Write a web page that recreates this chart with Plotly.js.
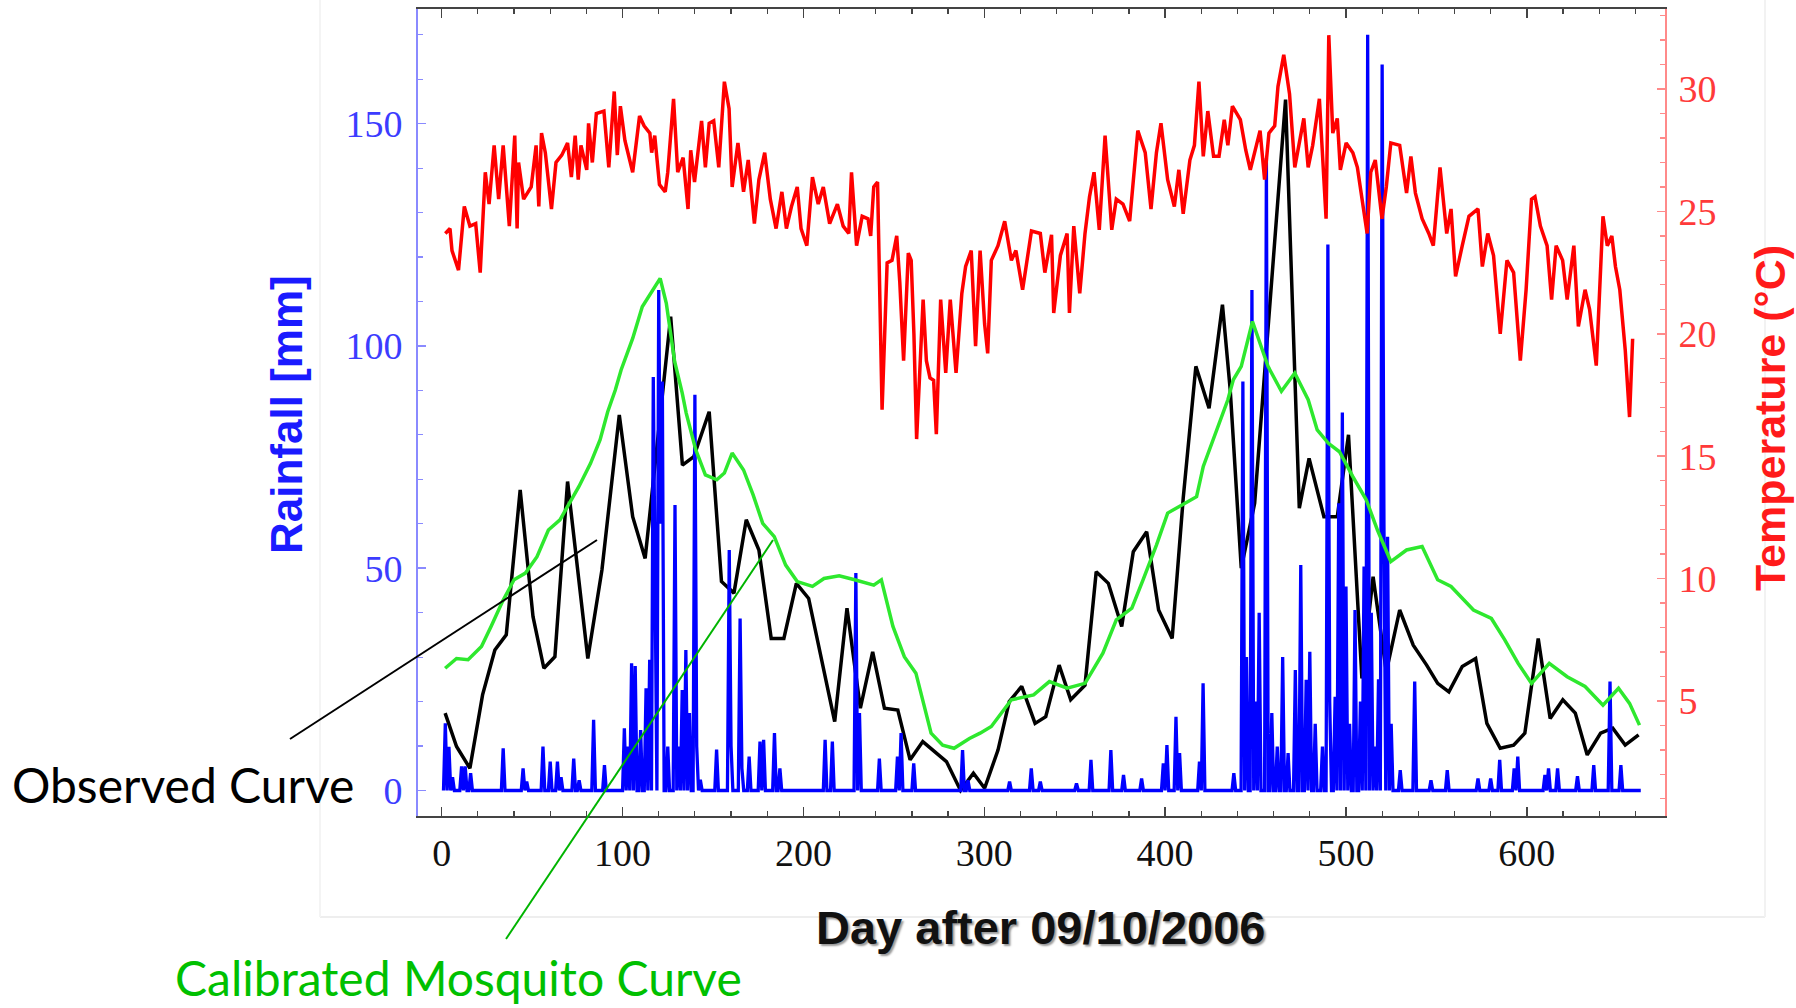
<!DOCTYPE html>
<html>
<head>
<meta charset="utf-8">
<script src="https://cdn.plot.ly/plotly-3.0.1.min.js"></script>
<style>
html,body{margin:0;padding:0;background:#ffffff;}
#chart{width:1796px;height:1008px;}
</style>
</head>
<body>
<div id="chart"></div>
<script>
// ---------------- DATA ----------------
// Daily temperature (°C), sampled at its visible peaks/troughs
const tempDay = [2,4.6,5.7,9.3,12.5,15.6,18.8,21.3,24.1,26.2,29,31.5,34,37.4,40.4,41.7,42.5,45.3,49.5,52.2,53.7,55.2,57.3,60.7,63.2,66.4,69.6,71.7,73.8,75.5,77,80.2,81.2,83.3,85.5,89.7,92.4,95.4,97.1,98.8,101.3,105.6,109.4,111.9,115.1,116.1,117.8,120.4,123.6,125,128.2,130.5,133.5,136.2,137.7,139.8,143.7,145.8,147.9,150.4,153.2,156.3,158.9,160.6,163.8,166.9,169.5,172.9,175.4,178.6,181.7,184.9,188.1,190.6,193.4,196.6,198.7,201.9,205,208.2,211,214.5,218.8,222,225.1,226.6,229.4,232.5,235.7,237.2,238.9,241,243.5,246.3,249,251.6,253.3,255.4,258,259.6,261.1,262.6,266.2,268,270,272,273.5,275.9,278.7,281.2,284.4,287.6,289.7,292.8,295.2,297.7,300.2,301.9,303.9,307.6,311.3,315,317.5,321.2,326.1,331,333.5,337.2,338.4,342.1,345.8,347.1,349.5,352.8,355.7,358.2,360.7,363.6,366.8,370.5,373,376.7,380.4,384.9,389,392.2,395.2,397.7,401.4,405.1,407.6,410,413.7,416.2,418.7,421.1,423.6,426.8,429.8,432.7,434.7,437.2,441.6,444.6,447.1,449.5,452.5,455,457.4,460.6,462.4,465.6,468.8,471.7,474.7,476.7,479.1,481.6,485.3,489,490.5,492.7,495.2,496.9,500.1,503.8,506.3,510,511.7,513.7,516.2,519.9,522.3,524.8,529.7,533.5,535.9,538.4,542.1,545.8,548.3,552,555.7,558.1,560.6,564.3,568,573,575.4,578.4,581.6,585.3,589,592.7,596.4,599.6,602.6,604.5,607.5,611.2,613.7,616.2,619.8,622.3,626,628.5,632.2,634.7,638.4,642.1,644.5,647,649,651.4,654.4,656.8,658.5];
const tempVal = [24.1,24.3,23.4,22.6,25.2,24.4,24.5,22.5,26.6,25.3,27.7,25.5,27.7,24.4,28.1,24.3,27,25.5,26,27.7,25.2,28.2,27.4,25.1,27,27.3,27.8,26.4,28.1,26.3,27.7,26.7,28.6,27,29,29.1,26.8,29.9,27.3,29.3,27.9,26.6,28.9,28.5,28.2,27.4,28.1,26.1,25.8,26.6,29.6,26.6,27.2,25.1,27.5,26.2,28.7,26.8,28.6,28.7,26.8,30.3,29.2,26,27.8,25.8,27.1,24.5,26.3,27.4,25.5,24.3,25.8,24.3,25.2,26,24.3,23.6,26.4,25.3,26,24.5,25.3,24.4,24.1,26.6,23.6,24.8,24.7,24,26,26.2,16.9,22.9,23,24,22.1,18.9,23.3,23,20,15.7,21.4,18.9,18.2,18.1,15.9,21.4,18.4,21.4,18.4,21.65,22.75,23.4,19.5,23.4,20.4,19.2,23,23.6,24.6,23,23.4,21.8,24.2,24.1,22.5,24.05,20.85,23.2,24.1,20.85,24.4,21.65,24.1,25.6,26.6,24.25,28.1,24.25,25.5,25.3,24.6,28.3,27.4,25.1,27.4,28.6,26.3,25.2,26.7,24.9,27.1,27.7,30.3,27.25,29.1,27.25,27.25,28.75,27.7,29.3,28.75,27.5,26.7,27.45,28.3,26.3,28.2,28.5,30.1,31.4,29.8,26.8,28.1,28.8,26.8,27.7,29.6,24.7,32.2,28.2,28.8,26.7,27.8,27.4,26.8,24.9,24.1,26.6,27.1,24.7,26,27.8,27.7,25.75,27.25,25.75,24.7,24.1,23.6,26.8,24.1,25.1,22.35,23.6,24.8,25.1,22.75,24.1,23.2,20,23,22.5,18.9,21.8,25.5,25.6,24.4,23.6,21.4,23.6,23,21.4,23.6,20.3,21.8,21,18.7,24.8,23.6,24,22.75,21.8,19.35,16.6,19.8];

// Rainfall (mm): days with rain and amounts; every other day of the record is dry (0 mm)
const rainFirstDay = 1;
const rainLastDay = 663;
const rainWetDay = [2,4,6,11,13,16,34,45,47,56,60,64,66,73,76,84,90,101,103,105,107,110,113,115,117,118,120,121,122,125,129,131,133,135,137,140,141,143,152,159,160,165,166,170,176,178,184,187,212,216,229,231,242,252,254,261,288,291,314,326,331,351,359,370,377,387,399,401,406,408,419,421,438,443,445,448,450,452,456,459,462,465,468,472,475,478,480,483,487,490,491,494,496,498,500,502,505,508,510,512,514,516,518,520,521,523,525,530,538,547,556,573,580,585,593,595,610,612,617,628,637,646,652];
const rainWetVal = [15.1,9.8,3,5.4,5.4,3.9,9.5,5,2,9.9,6.5,6.5,3,7.2,2.3,15.9,5.7,14,9.9,28.6,28,13.6,23,29.4,93,40,112.6,60,92,9.9,64.2,9.9,22.6,31.6,17.4,89,9.9,2.4,9.2,54.1,10,38.7,5,7.6,11,11.4,12.9,5,11.4,11,48.9,17.4,7.2,7.6,12.9,6.1,9.1,2.3,2,5,2,1.6,6.9,9.1,3.5,2.7,6.1,10.2,16.6,8.4,6.5,24.1,3.9,92,30,112.6,20,40,142.3,17.4,9.9,30,8.4,27.1,50.7,24.9,31.2,15,9.9,122.8,20,21.1,64.6,85,45.9,15,40.6,20,50.4,170,40,9.9,25,163.3,60,57.1,15,4.6,24.5,2.3,4.6,2.7,2.7,6.9,5,7.6,3.5,5,5,3.2,5.7,24.5,5.7];

// Observed mosquito curve (black)
const obsDay = [1.9,8.2,15.6,22.6,29.4,35.7,43.4,50.5,56.5,62.6,69.6,74.9,80.8,88.6,98.2,105.6,112.5,126.6,133.1,139.4,147.9,154.7,161.6,168.4,175.4,182.2,189.2,196.1,202.9,217.3,224.1,231.5,238.3,244.8,252.2,259,266,279.1,286.9,294,300.2,307.6,313.8,320.7,328.1,334,341.4,347.8,355.7,361.9,368.6,376,382.4,389.8,396.4,403.9,410,417,421.9,424.3,431.7,436,442.1,449.5,466.6,474.2,479.6,487.8,495.2,501.4,508.8,515,522.3,529.7,537.2,544.6,550.7,556.9,564.3,571.7,577.9,585.3,592.7,598.9,606.3,612.9,619.9,626.8,633.4,640.8,647.5,654.4,661.8];
const obsVal = [17.4,9.9,5,21.5,31.6,35,67.6,39.1,27.5,30.1,69.5,50.4,29.7,49.6,84.5,61.6,52.2,106.6,73.2,75.1,85.2,47,44.4,60.9,54.1,34.2,34.2,46.6,43.2,15.5,41,18.5,31.2,18.5,18.1,6.9,11,6.5,0,3.9,0.5,9.1,20,23.4,15.1,16.6,28.2,20.4,23.7,49.2,46.6,36.9,53.7,58.2,40.6,34.2,65.7,95.4,89.4,86,109.3,90.1,50,64.6,155.4,63.5,74.7,61.6,61.6,80,25.2,48.1,26.7,40.6,32.7,28.2,24.1,22.2,27.9,29.7,15.1,9.5,10.2,12.9,34.2,16.2,20.4,17.4,8,12.9,14,10.2,12.5];

// Calibrated mosquito curve (green)
const calDay = [1.9,8.2,14.6,22,27.3,33.6,40,46.3,52.7,59,65.4,70.6,75.9,82.3,87.6,91.8,96,99.2,105.6,110.9,116.6,120.8,124.2,128.8,133,135.2,140.5,145.8,152.1,156.3,160.6,166.9,172.2,177.5,183.9,190.2,196.6,205,211.4,219.8,228.3,238.9,243.1,249.5,255.8,262.2,270.6,277,283.3,291.8,297.7,303.9,315,327.3,336,345.8,355.7,365.6,373,381.6,387.8,395.2,401.4,407.6,417.4,421.1,428.5,434.7,437.7,442.1,448.3,456.9,464.3,471.7,479.1,484.1,490.3,496.4,503.8,511.2,517.4,524.8,533.5,542.1,550.7,558.1,570.5,580.4,587.8,595.2,602.6,612.4,622.3,632.2,642.1,650.7,656.8,662.3];
const calVal = [27.5,29.7,29.4,32.4,36.9,42.5,47.4,48.9,52.6,58.6,60.9,64.6,68.4,73.6,78.9,85.2,90.1,94.6,101.7,108.8,112.6,115.2,109.6,96.5,89.4,84.9,76.6,71,69.9,71.4,75.9,72.1,66.5,60.1,57.1,50.7,47,45.9,47.7,48.3,47.4,46.2,47.4,36.9,30.1,26.4,12.9,10.2,9.5,11.7,12.9,14.4,20.4,21.5,24.5,23,24.1,30.9,38.4,41,47.4,55.2,62.4,63.9,66.1,72.9,81.1,87.9,92.4,95.4,105.5,95.4,89.8,93.9,87.9,81.1,78.1,76.2,70.6,65.4,58.6,51.5,54.1,54.9,47.4,45.9,40.6,38.7,33.9,28.6,24.1,28.6,25.6,23.4,19.2,23,19.6,14.7];

// Axis tick values and texts
const dayTicks = [0,100,200,300,400,500,600];
const rainTicks = [0,50,100,150];
const tempTicks = [5,10,15,20,25,30];

const xTitle = 'Day after 09/10/2006';
const yTitle = 'Rainfall [mm]';
const y2Title = 'Temperature (°C)';
const obsLabel = 'Observed Curve';
const calLabel = 'Calibrated Mosquito Curve';

// ---------------- build daily rainfall record ----------------
const rainDay = [];
const rainVal = [];
for (let d = rainFirstDay; d <= rainLastDay; d++) { rainDay.push(d); rainVal.push(0); }
rainWetDay.forEach((d, i) => { rainVal[d - rainFirstDay] = rainWetVal[i]; });

// ---------------- layout helpers (pixel -> paper) ----------------
const M = {l: 418, r: 131, t: 9, b: 192};
const PW = 1796 - M.l - M.r, PH = 1008 - M.t - M.b;
const px = x => (x - M.l) / PW;
const py = y => (1008 - M.b - y) / PH;

const traces = [
  {x: obsDay, y: obsVal, type: 'scatter', mode: 'lines', name: obsLabel,
   line: {color: '#000000', width: 3.5}, yaxis: 'y', hoverinfo: 'skip'},
  {x: rainDay, y: rainVal, type: 'scatter', mode: 'lines', name: 'Rainfall',
   line: {color: '#0000ff', width: 3.3}, yaxis: 'y', hoverinfo: 'skip'},
  {x: calDay, y: calVal, type: 'scatter', mode: 'lines', name: calLabel,
   line: {color: '#2ee82e', width: 3.5}, yaxis: 'y', hoverinfo: 'skip'},
  {x: tempDay, y: tempVal, type: 'scatter', mode: 'lines', name: 'Temperature',
   line: {color: '#ff0000', width: 3.5}, yaxis: 'y2', hoverinfo: 'skip'}
];

const tickFont = 'Liberation Serif, Times New Roman, serif';
const boldFont = 'Liberation Sans, Arial, sans-serif';

const layout = {
  width: 1796, height: 1008,
  margin: M,
  paper_bgcolor: '#ffffff', plot_bgcolor: '#ffffff',
  showlegend: false,
  xaxis: {
    range: [-13.1, 676.4], tickvals: dayTicks, ticktext: dayTicks.map(String),
    showgrid: false, zeroline: false,
    showline: true, linecolor: '#444444', linewidth: 2, mirror: 'ticks',
    ticks: 'inside', ticklen: 9, tickwidth: 1.5, tickcolor: '#444444',
    minor: {dtick: 20, tick0: 0, ticks: 'inside', ticklen: 5, tickwidth: 1.2, tickcolor: '#444444', showgrid: false},
    tickfont: {family: tickFont, size: 38, color: '#111111'},
    ticklabelstandoff: 2
  },
  yaxis: {
    range: [-5.74, 175.8], tickvals: rainTicks, ticktext: rainTicks.map(String),
    showgrid: false, zeroline: false,
    showline: true, linecolor: '#8a8aff', linewidth: 2,
    ticks: 'inside', ticklen: 8, tickwidth: 1.5, tickcolor: '#8a8aff',
    minor: {dtick: 10, tick0: 0, ticks: 'inside', ticklen: 5, tickwidth: 1.2, tickcolor: '#8a8aff', showgrid: false},
    tickfont: {family: tickFont, size: 38, color: '#3c3cff'},
    ticklabelstandoff: 6
  },
  yaxis2: {
    overlaying: 'y', side: 'right',
    range: [0.30, 33.27], tickvals: tempTicks, ticktext: tempTicks.map(String),
    showgrid: false, zeroline: false,
    showline: true, linecolor: '#ff8a8a', linewidth: 2,
    ticks: 'inside', ticklen: 8, tickwidth: 1.5, tickcolor: '#ff8a8a',
    minor: {dtick: 1, tick0: 0, ticks: 'inside', ticklen: 5, tickwidth: 1.2, tickcolor: '#ff8a8a', showgrid: false},
    tickfont: {family: tickFont, size: 38, color: '#ff3a3a'},
    ticklabelstandoff: 4
  },
  shapes: [
    // faint border of the embedded chart picture
    {type: 'line', xref: 'paper', yref: 'paper', x0: px(320), x1: px(1765), y0: py(917), y1: py(917), line: {color: '#eeeeee', width: 2}},
    {type: 'line', xref: 'paper', yref: 'paper', x0: px(1765), x1: px(1765), y0: py(0), y1: py(917), line: {color: '#f2f2f2', width: 2}},
    {type: 'line', xref: 'paper', yref: 'paper', x0: px(320), x1: px(320), y0: py(0), y1: py(917), line: {color: '#f4f4f4', width: 2}},
    // pointer lines of the two labels
    {type: 'line', xref: 'paper', yref: 'paper', x0: px(290), y0: py(739), x1: px(597), y1: py(540), line: {color: '#000000', width: 2}},
    {type: 'line', xref: 'paper', yref: 'paper', x0: px(773), y0: py(540), x1: px(506), y1: py(939), line: {color: '#00b400', width: 2}}
  ],
  annotations: [
    {text: yTitle, xref: 'paper', yref: 'paper', x: px(286), y: py(415), xanchor: 'center', yanchor: 'middle',
     textangle: -90, showarrow: false, font: {family: boldFont, size: 44, color: '#1a1aff', weight: 'bold'}},
    {text: y2Title, xref: 'paper', yref: 'paper', x: px(1770), y: py(418), xanchor: 'center', yanchor: 'middle',
     textangle: -90, showarrow: false, font: {family: boldFont, size: 43, color: '#ff1a1a', weight: 'bold'}},
    {text: xTitle, xref: 'paper', yref: 'paper', x: px(1040), y: py(928), xanchor: 'center', yanchor: 'middle',
     showarrow: false, font: {family: boldFont, size: 47, color: '#111111', weight: 'bold', shadow: '2px 2px 2px #9a9a9a'}},
    {text: obsLabel, xref: 'paper', yref: 'paper', x: px(10), y: py(784), xanchor: 'left', yanchor: 'middle',
     showarrow: false, font: {family: 'Lato, Open Sans, sans-serif', size: 48, color: '#000000'}},
    {text: calLabel, xref: 'paper', yref: 'paper', x: px(174), y: py(1007), xanchor: 'left', yanchor: 'bottom', borderpad: 0,
     showarrow: false, font: {family: 'Lato, Open Sans, sans-serif', size: 48, color: '#00c000'}}
  ]
};

Plotly.newPlot('chart', traces, layout, {staticPlot: true, displayModeBar: false});
</script>
</body>
</html>
